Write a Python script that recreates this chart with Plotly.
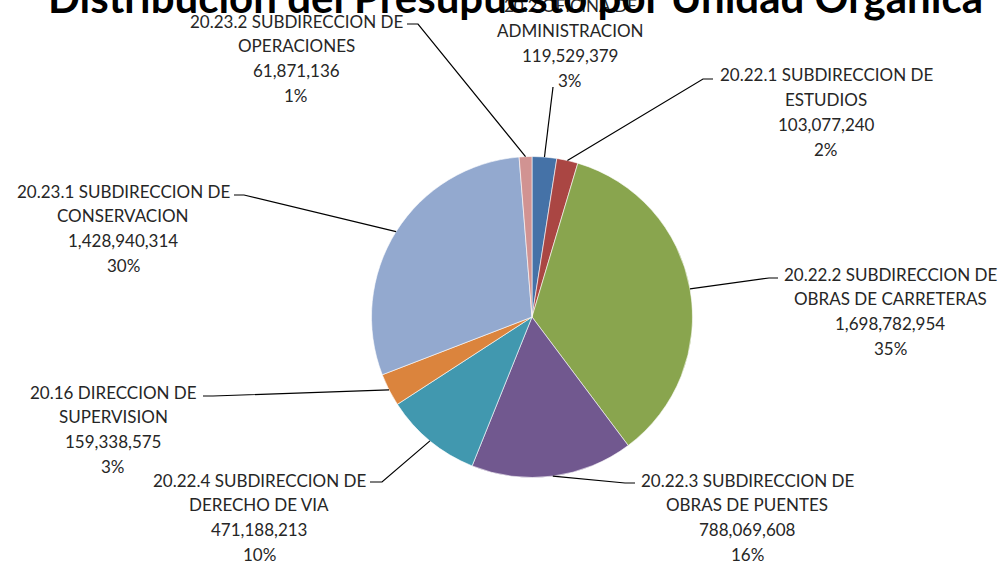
import math
import plotly.graph_objects as go

# ---------------- data ----------------
units = [
    "20.2 OFICINA DE\nADMINISTRACION",
    "20.22.1 SUBDIRECCION DE\nESTUDIOS",
    "20.22.2 SUBDIRECCION DE\nOBRAS DE CARRETERAS",
    "20.22.3 SUBDIRECCION DE\nOBRAS DE PUENTES",
    "20.22.4 SUBDIRECCION DE\nDERECHO DE VIA",
    "20.16 DIRECCION DE\nSUPERVISION",
    "20.23.1 SUBDIRECCION DE\nCONSERVACION",
    "20.23.2 SUBDIRECCION DE\nOPERACIONES",
]
amounts = [119529379, 103077240, 1698782954, 788069608,
           471188213, 159338575, 1428940314, 61871136]
pct_labels = ["3%", "2%", "35%", "16%", "10%", "3%", "30%", "1%"]
title_text = "Distribución del Presupuesto por Unidad Orgánica"

# ---------------- style / layout ----------------
colors = ["#4572A7", "#AA4643", "#89A54E", "#71588F",
          "#4198AF", "#DB843D", "#93A9CF", "#D19392"]
W, H = 1002, 565
CX, CY, R = 532, 317, 160.5
LINE_GAP = 24.8
# (text center x, first line center y, stub x0, stub x1, stub y) in pixels
label_pos = [
    (570, 6, None, None, None),
    (826, 75, 713, 703, 79),
    (890, 274, 778, 769, 278),
    (747, 480, 635, 625, 483),
    (259, 480, 370, 382, 482),
    (113, 392, 203, 213, 396),
    (123, 191, 234, 244, 195),
    (296, 21, 407, 418, 24),
]
admin_start = (553, 87)
txt_font = dict(family="Lato", size=17, color="#262626")


def px(x):
    return x / W


def py(y):
    return 1 - y / H


fig = go.Figure(go.Pie(
    values=amounts,
    labels=[u.replace("\n", " ") for u in units],
    sort=False,
    direction="clockwise",
    rotation=0,
    textinfo="none",
    hoverinfo="label+value+percent",
    marker=dict(colors=colors, line=dict(color="white", width=0.6)),
    domain=dict(x=[px(CX - R), px(CX + R)], y=[py(CY + R), py(CY - R)]),
    showlegend=False,
))

annotations = []
shapes = []
total = sum(amounts)
cum = 0
for i, (u, v, p) in enumerate(zip(units, amounts, pct_labels)):
    lines = u.split("\n") + [f"{v:,}", p]
    cx, fy, sx0, sx1, sy = label_pos[i]
    for k, t in enumerate(lines):
        annotations.append(dict(
            text=t, x=px(cx), y=py(fy + k * LINE_GAP), xref="paper", yref="paper",
            xanchor="center", yanchor="middle", showarrow=False, font=txt_font))
    a = (cum + v / 2) / total * 2 * math.pi
    cum += v
    ex, ey = CX + R * math.sin(a), CY - R * math.cos(a)
    if sx0 is None:
        path = f"M {px(admin_start[0])},{py(admin_start[1])} L {px(ex)},{py(ey)}"
    else:
        path = (f"M {px(sx0)},{py(sy)} L {px(sx1)},{py(sy)} "
                f"L {px(ex)},{py(ey)}")
    shapes.append(dict(type="path", path=path, xref="paper", yref="paper",
                       line=dict(color="black", width=1.2)))

annotations.append(dict(
    text=title_text, x=px(515), y=py(-3), xref="paper", yref="paper",
    xanchor="center", yanchor="middle", showarrow=False,
    font=dict(family="Lato", size=42, color="black", weight="bold")))

fig.update_layout(
    width=W, height=H,
    margin=dict(l=0, r=0, t=0, b=0),
    paper_bgcolor="white", plot_bgcolor="white",
    annotations=annotations, shapes=shapes,
)
fig.write_html("out.html", config={"displayModeBar": False},
               post_script="document.body.style.margin='0px';")
